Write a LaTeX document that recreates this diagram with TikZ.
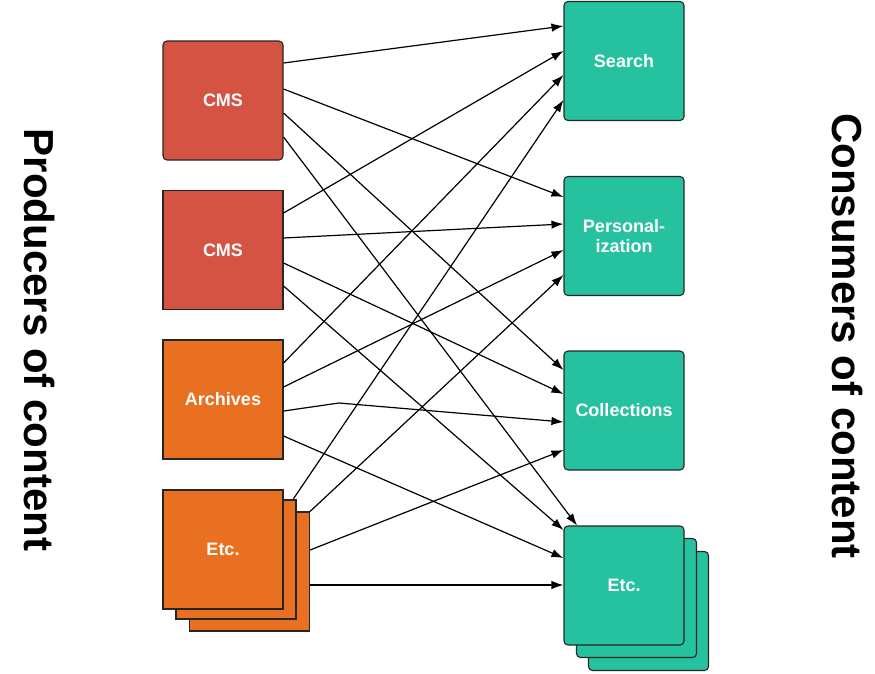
\documentclass[tikz,border=0pt]{standalone}
\usepackage{fontspec}
\setmainfont{Liberation Sans}
\usetikzlibrary{arrows.meta}

\begin{document}
\begin{tikzpicture}[x = 1pt, y = -1pt]
  % styles
  \tikzstyle{box} = [draw = black!85, line width = 1.1pt, minimum width = 120pt,
    minimum height = 119pt, inner sep = 0pt, text = white, align = center,
    font = \fontsize{18}{20}\selectfont\bfseries]
  \tikzstyle{producer} = [box, fill = cmsred]
  \tikzstyle{other producer} = [box, fill = archorange]
  \tikzstyle{consumer} = [box, fill = consteal, rounded corners = 4pt]
  \tikzstyle{side label} = [rotate = -90, font = \fontsize{42}{46}\selectfont\bfseries]
  \tikzstyle{flow} = [line width = 1.2pt, -{Latex[length = 12pt, width = 8.5pt]}]
  \definecolor{cmsred}{RGB}{212, 83, 67}
  \definecolor{archorange}{RGB}{233, 112, 33}
  \definecolor{consteal}{RGB}{38, 193, 158}

  \useasboundingbox (0, 0) rectangle (875, 673);

  % side labels
  \node[side label] (producers) at (40, 340) {Producers of content};
  \node[side label] (consumers) at (847, 336) {Consumers of content};

  % producers
  \node[producer, rounded corners = 4pt] (cms1) at (223, 100.5) {CMS};
  \node[producer] (cms2) at (223, 250) {CMS};
  \node[other producer] (archives) at (223, 399.5) {Archives};
  \node[other producer] (etcl3) at (249.5, 571.5) {};
  \node[other producer] (etcl2) at (236, 559.5) {};
  \node[other producer] (etcl) at (223, 549.5) {Etc.};

  % consumers
  \node[consumer] (search) at (624, 61) {Search};
  \node[consumer] (personal) at (624, 236) {Personal-\\ization};
  \node[consumer] (collections) at (624, 410.5) {Collections};
  \node[consumer] (etcr3) at (648.5, 611) {};
  \node[consumer] (etcr2) at (636.5, 598) {};
  \node[consumer] (etcr) at (624, 585.5) {Etc.};

  % flows from first cms
  \draw[flow] (cms1.east |- 0, 63) -- (search.west |- 0, 26);
  \draw[flow] (cms1.east |- 0, 89) -- (personal.west |- 0, 197);
  \draw[flow] (cms1.east |- 0, 113) -- (collections.west |- 0, 370);
  \draw[flow] (cms1.east |- 0, 137) -- (577, 0 |- etcr.north);

  % flows from second cms
  \draw[flow] (cms2.east |- 0, 213) -- (search.west |- 0, 51);
  \draw[flow] (cms2.east |- 0, 238) -- (personal.west |- 0, 224);
  \draw[flow] (cms2.east |- 0, 263) -- (collections.west |- 0, 394);
  \draw[flow] (cms2.east |- 0, 286) -- (etcr.west |- 0, 530);

  % flows from archives
  \coordinate (bend) at (339, 403);
  \draw[flow] (archives.east |- 0, 363) -- (search.west |- 0, 75);
  \draw[flow] (archives.east |- 0, 387) -- (personal.west |- 0, 250);
  \draw[flow] (archives.east |- 0, 411) -- (bend) -- (collections.west |- 0, 422);
  \draw[flow] (archives.east |- 0, 436) -- (etcr.west |- 0, 558);

  % flows from etc.
  \draw[flow] (293, 0 |- etcl2.north) -- (search.west |- 0, 100);
  \draw[flow] (etcl3.north east) -- (personal.west |- 0, 275);
  \draw[flow] (etcl3.east |- 0, 550) -- (collections.west |- 0, 450);
  \draw[flow] (etcl3.east |- 0, 585) -- (etcr.west |- 0, 585);

\end{tikzpicture}
\end{document}
